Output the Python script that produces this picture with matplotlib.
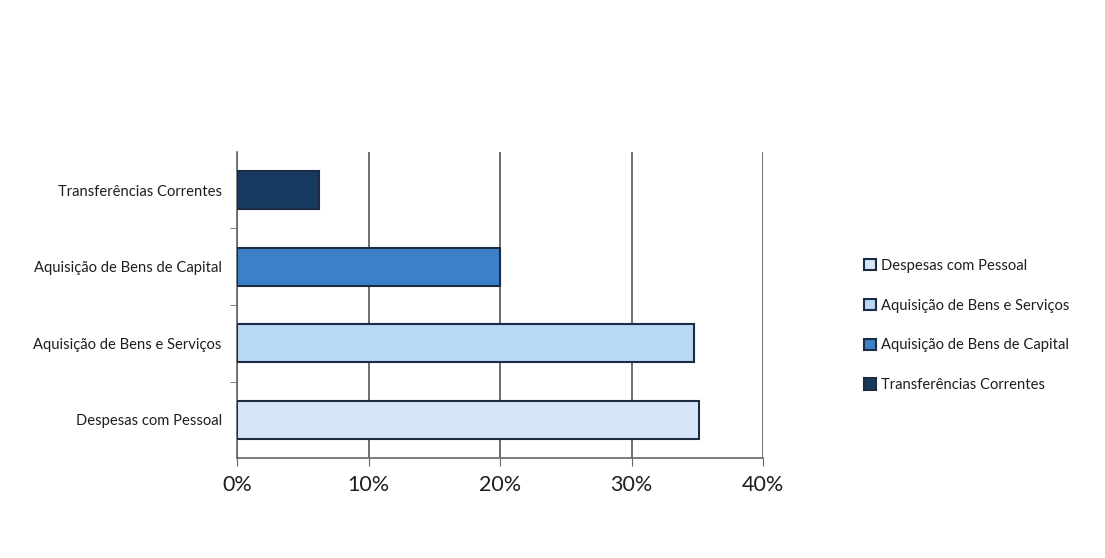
import matplotlib.pyplot as plt
from matplotlib.ticker import PercentFormatter

# dados (percentagem da despesa)
categorias = ['Despesas com Pessoal', 'Aquisição de Bens e Serviços',
              'Aquisição de Bens de Capital', 'Transferências Correntes']
valores = [35.1, 34.75, 20.0, 6.2]
cores = ['#d4e6f7', '#b9d8f4', '#3b80c8', '#163a5f']
xticks = [0, 10, 20, 30, 40]

plt.rcParams['font.family'] = ['Lato', 'DejaVu Sans']

fig = plt.figure(figsize=(11.05, 5.58), dpi=100)
ax = fig.add_axes([0.2145, 0.179, 0.476, 0.549])

for i, (cat, val, cor) in enumerate(zip(categorias, valores, cores)):
    ax.barh(i, val, height=0.5, color=cor, edgecolor='#1c2c44',
            linewidth=1.5, label=cat, zorder=3)

ax.set_xlim(0, 40)
ax.set_ylim(-0.5, 3.5)
ax.set_xticks(xticks)
ax.xaxis.set_major_formatter(PercentFormatter(decimals=0))
ax.set_yticks(range(len(categorias)))
ax.set_yticklabels(categorias)
ax.set_yticks([0.5, 1.5, 2.5], minor=True)

ax.grid(axis='x', color='#555555', linewidth=1.2, zorder=0)
for s in ['top', 'right']:
    ax.spines[s].set_visible(False)
for s in ['left', 'bottom']:
    ax.spines[s].set_color('#666666')
    ax.spines[s].set_linewidth(1.2)

ax.tick_params(axis='y', which='major', length=0, pad=11, labelsize=10.6,
               labelcolor='#1e1e1e')
ax.tick_params(axis='y', which='minor', length=5, color='#666666')
ax.tick_params(axis='x', length=6, color='#666666', labelsize=15.5,
               labelcolor='#1e1e1e', pad=6)

leg = fig.legend(loc='upper left', bbox_to_anchor=(0.77, 0.56),
                 frameon=False, fontsize=10.6, handlelength=0.8,
                 handleheight=0.8, handletextpad=0.35, labelspacing=1.75)
for t in leg.get_texts():
    t.set_color('#1e1e1e')

fig.savefig('out.png', dpi=100, facecolor='white')
